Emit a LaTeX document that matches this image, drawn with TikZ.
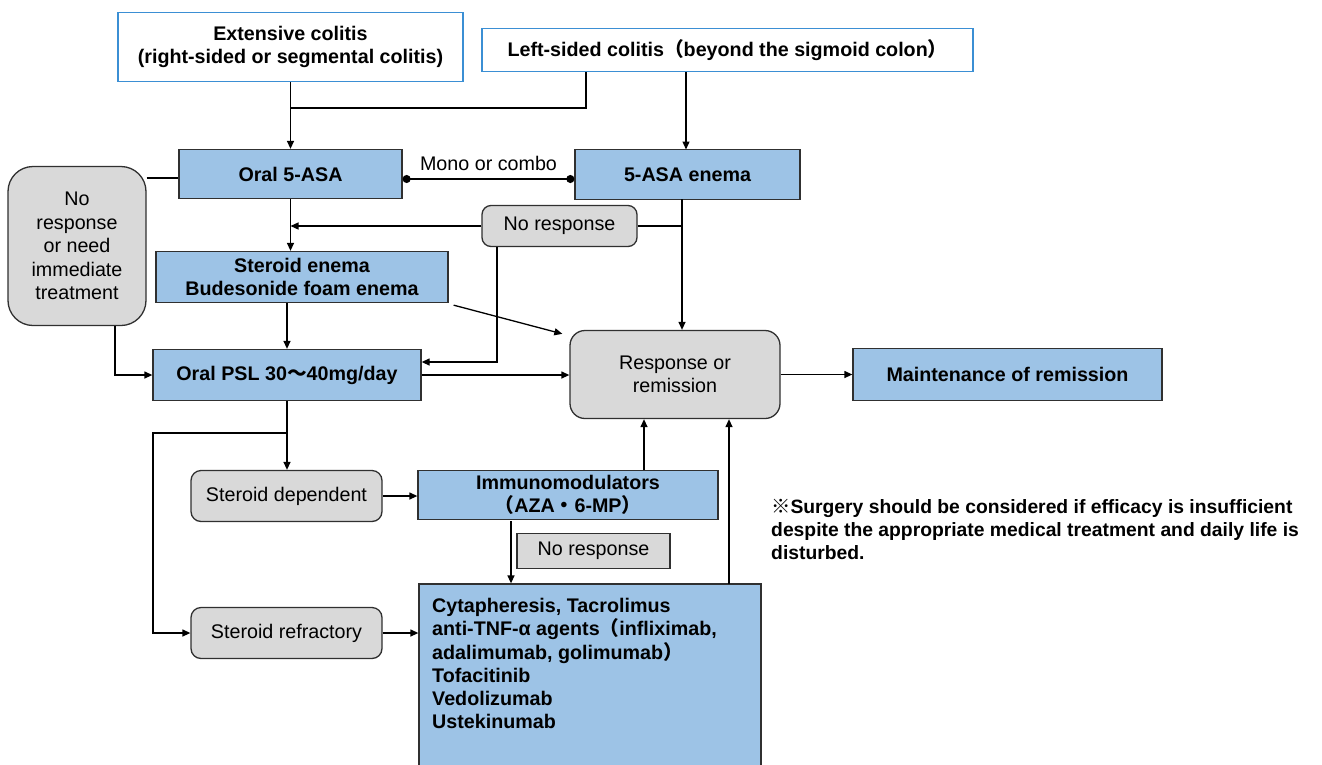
\documentclass[tikz,border=0pt]{standalone}
\usepackage{fontspec}
\setmainfont{Liberation Sans}
\newfontfamily\cjk{Noto Sans CJK SC}
\usetikzlibrary{arrows.meta}
\definecolor{boxblue}{HTML}{9DC3E6}
\definecolor{boxgray}{HTML}{D9D9D9}
\definecolor{topline}{HTML}{3B8FD4}
\definecolor{edge}{HTML}{303030}
\newcommand\mainsize{\fontsize{19.7}{23.5}\selectfont}
\tikzset{
  every node/.style={font=\mainsize, inner sep=0pt, align=center},
  topbox/.style={draw=topline, line width=1.3pt, fill=white, font=\mainsize\bfseries},
  bluebox/.style={draw=edge, line width=1.3pt, fill=boxblue, font=\mainsize\bfseries},
  graybox/.style={draw=edge, line width=1.3pt, fill=boxgray, rounded corners=9pt},
  flat/.style={draw=edge, line width=1.3pt, fill=boxgray},
  conn/.style={line width=1.3pt, black},
  arr/.style={conn, -{Triangle[length=8pt,width=7pt]}},
  dotted ends/.style={conn, {Circle[length=8pt]}-{Circle[length=8pt]}},
}
\begin{document}
\begin{tikzpicture}[x=1pt,y=-1pt]
\useasboundingbox (0,0) rectangle (1322,764);
\clip (0,0) rectangle (1322,764);

% disease extent
\node[topbox, minimum width=345, minimum height=69] (ext) at (290.5,47)
  {Extensive colitis\\(right-sided or segmental colitis)};
\node[topbox, minimum width=491, minimum height=43] (lsc) at (727.5,50)
  {Left-sided colitis{\cjk （}beyond the sigmoid colon{\cjk ）}};

% first-line therapy
\node[bluebox, minimum width=223, minimum height=49] (oral) at (290.5,174) {Oral 5-ASA};
\node[bluebox, minimum width=225, minimum height=50] (enema) at (687.5,174.5) {5-ASA enema};
\node[graybox, minimum width=155, minimum height=41] (nr1) at (559.5,226) {No response};
\node[bluebox, minimum width=292, minimum height=51] (ster) at (302,277)
  {Steroid enema\\Budesonide foam enema};
\node[graybox, rounded corners=25pt, minimum width=138, minimum height=159] (urgent) at (77,246)
  {No\\response\\or need\\immediate\\treatment};
\node[bluebox, minimum width=268, minimum height=51] (psl) at (287,375)
  {Oral PSL 30{\cjk ～}40mg/day};
\node[graybox, rounded corners=15pt, minimum width=210, minimum height=88] (resp) at (675,374.5)
  {Response or\\remission};
\node[bluebox, minimum width=309, minimum height=52] (maint) at (1007.5,374.5) {Maintenance of remission};

% steroid failure
\node[graybox, rounded corners=10pt, minimum width=191, minimum height=51] (dep) at (286.5,496) {Steroid dependent};
\node[bluebox, minimum width=300, minimum height=49] (immuno) at (568,495)
  {Immunomodulators\\{\cjk （}AZA{\cjk ・}6-MP{\cjk ）}};
\node[flat, minimum width=153, minimum height=35] (nr2) at (593.5,551) {No response};
\node[graybox, rounded corners=10pt, minimum width=191, minimum height=51] (refr) at (286.5,633) {Steroid refractory};
\node[bluebox, minimum width=342, minimum height=200] (bio) at (590,684) {};
\node[anchor=north west, align=left, font=\fontsize{19.7}{23.3}\selectfont\bfseries] (biotext) at (432,598)
  {Cytapheresis, Tacrolimus\\anti-TNF-α agents{\cjk （}infliximab,\\adalimumab, golimumab{\cjk ）}\\Tofacitinib\\Vedolizumab\\Ustekinumab};

% note on surgery
\node[anchor=north west, align=left, font=\fontsize{19.3}{23}\selectfont\bfseries] (note) at (771,499)
  {{\cjk ※}Surgery should be considered if efficacy is insufficient\\despite the appropriate medical treatment and daily life is\\disturbed.};

% connectors
\coordinate (jA) at (586,108);
\draw[arr] (ext.south) -- (oral.north);
\draw[conn] (lsc.south -| jA) -- (jA) -- (jA -| ext.south);
\draw[arr] (lsc.south -| 686,0) -- (686,149.5);
\draw[dotted ends] (oral.east |- 0,179) -- (enema.west |- 0,179)
  node[midway, above=8pt] (mono) {Mono or combo};

\coordinate (eX) at (682,199);
\draw[arr] (eX) -- (eX |- resp.north);
\draw[conn] (nr1.east) -- (nr1.east -| eX);
\draw[arr] (nr1.west) -- (nr1.west -| oral.south);
\coordinate (k1) at (497,362);
\draw[arr] (nr1.south -| k1) -- (k1) -- (k1 -| psl.east);

\draw[arr] (oral.south) -- (oral.south |- ster.north);
\draw[arr] (psl.north |- ster.south) -- (psl.north);
\draw[arr] ([shift={(5,2)}]ster.south east) -- ([shift={(-7,4)}]resp.north west);

\draw[conn] (urgent.east |- 0,178) -- (oral.west |- 0,178);
\coordinate (k2) at (115,375);
\draw[arr] (urgent.south -| k2) -- (k2) -- (psl.west);

\draw[arr] (psl.east) -- (psl.east -| resp.west);
\draw[arr] (resp.east) -- (maint.west);

\draw[arr] (psl.south) -- (psl.south |- dep.north);
\coordinate (k3) at (287,433);
\coordinate (k4) at (153,433);
\draw[arr] (k3) -- (k4) -- (k4 |- refr.west) -- (refr.west);

\draw[arr] (dep.east) -- (dep.east -| immuno.west);
\draw[arr] (refr.east) -- (refr.east -| bio.west);

\coordinate (k5) at (644,470);
\draw[arr] (k5) -- (k5 |- resp.south);
\coordinate (k6) at (729,584);
\draw[arr] (k6) -- (k6 |- resp.south);
\coordinate (k7) at (511,521);
\draw[arr] (k7) -- (k7 |- bio.north);
\end{tikzpicture}
\end{document}
